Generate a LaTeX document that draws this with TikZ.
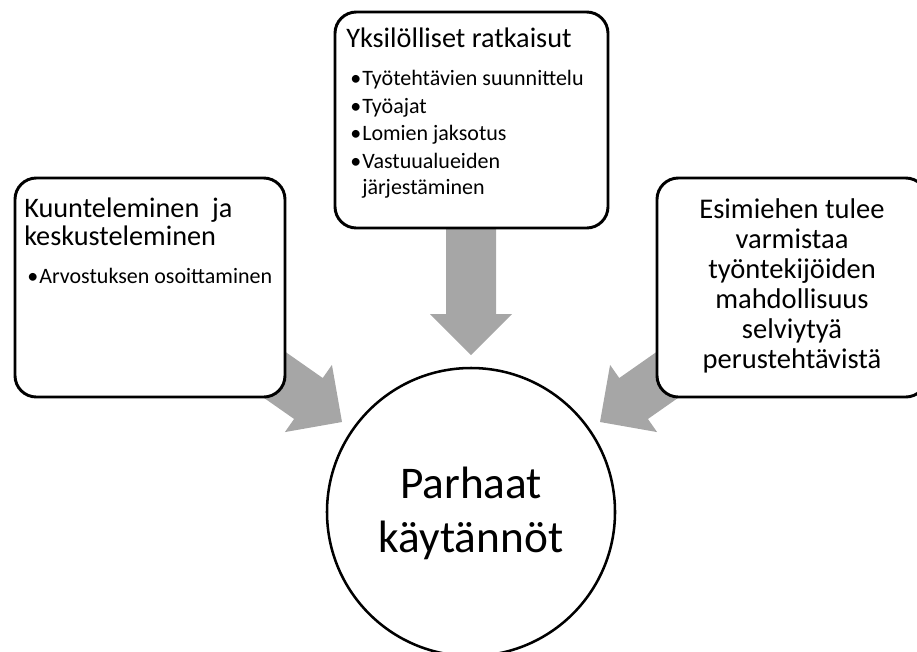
\documentclass[tikz,border=0pt]{standalone}
\usepackage{fontspec}
\setmainfont{Carlito}
\usetikzlibrary{calc}
\definecolor{arrowgray}{RGB}{166,166,166}
\newcommand\blockarrow[2]{%
  \coordinate (#1-#2-b) at ($(#2)!30.75pt!(#1)$);
  \fill[arrowgray] ($(#1)!18.75pt!90:(#2)$) -- ($(#1-#2-b)!18.75pt!90:(#2)$)
    -- ($(#1-#2-b)!30.75pt!90:(#2)$) -- (#2)
    -- ($(#1-#2-b)!30.75pt!-90:(#2)$) -- ($(#1-#2-b)!18.75pt!-90:(#2)$)
    -- ($(#1)!18.75pt!-90:(#2)$) -- cycle;}
\tikzset{
  box/.style={draw, line width=2.2pt, rounded corners=16pt, fill=white, inner sep=0pt},
  hub/.style={draw, circle, line width=1.9pt, fill=white, inner sep=0pt, minimum size=216pt},
  hdr/.style={anchor=base west, inner sep=0pt, font=\fontsize{21.2}{25}\selectfont},
  itm/.style={anchor=base west, inner sep=0pt, font=\fontsize{16.5}{19}\selectfont},
  ctr/.style={anchor=base, inner sep=0pt, font=\fontsize{21.4}{25}\selectfont},
  big/.style={anchor=base, inner sep=0pt, font=\fontsize{34}{40}\selectfont},
}
\begin{document}
\begin{tikzpicture}[x=0.75pt,y=-0.75pt]
\useasboundingbox (0,0) rectangle (917,651);
\clip (0,0) rectangle (917,651);
% arrow anchor points
\coordinate (sL) at (252,359);
\coordinate (tL) at (342,422);
\coordinate (sR) at (690,359);
\coordinate (tR) at (600,422);
\coordinate (sT) at (471,200);
\coordinate (tT) at (471,355);
\blockarrow{sL}{tL}
\blockarrow{sR}{tR}
\blockarrow{sT}{tT}
% boxes
\node[box, minimum width=202.5pt, minimum height=164.25pt] (left) at (150,287.5) {};
\node[box, minimum width=204.75pt, minimum height=162pt] (top) at (471.5,120) {};
\node[box, minimum width=202.5pt, minimum height=164.25pt] (right) at (792,287.5) {};
\node[hub] (hub) at (471,512) {};
% left box text
\node[hdr] (l1) at (24,217) {Kuunteleminen\hspace{0.45em}ja};
\node[hdr] (l2) at (24,245) {keskusteleminen};
\node[itm] (lb1) at (27,283) {•};
\node[itm] (lt1) at (39,283) {Arvostuksen osoittaminen};
% top box text
\node[hdr] (t1) at (346,47) {Yksilölliset ratkaisut};
\node[itm] (tb1) at (350,85) {•};
\node[itm] (tt1) at (362,85) {Työtehtävien suunnittelu};
\node[itm] (tb2) at (350,113) {•};
\node[itm] (tt2) at (362,113) {Työajat};
\node[itm] (tb3) at (350,140) {•};
\node[itm] (tt3) at (362,140) {Lomien jaksotus};
\node[itm] (tb4) at (350,168) {•};
\node[itm] (tt4) at (362,168) {Vastuualueiden};
\node[itm] (tt5) at (362,194) {järjestäminen};
% right box text
\node[ctr] (r1) at (792,218) {Esimiehen tulee};
\node[ctr] (r2) at (792,248) {varmistaa};
\node[ctr] (r3) at (792,278) {työntekijöiden};
\node[ctr] (r4) at (792,308) {mahdollisuus};
\node[ctr] (r5) at (792,338) {selviytyä};
\node[ctr] (r6) at (792,368) {perustehtävistä};
% hub text
\node[big] (h1) at (471,498) {Parhaat};
\node[big] (h2) at (471,552) {käytännöt};
\end{tikzpicture}
\end{document}
